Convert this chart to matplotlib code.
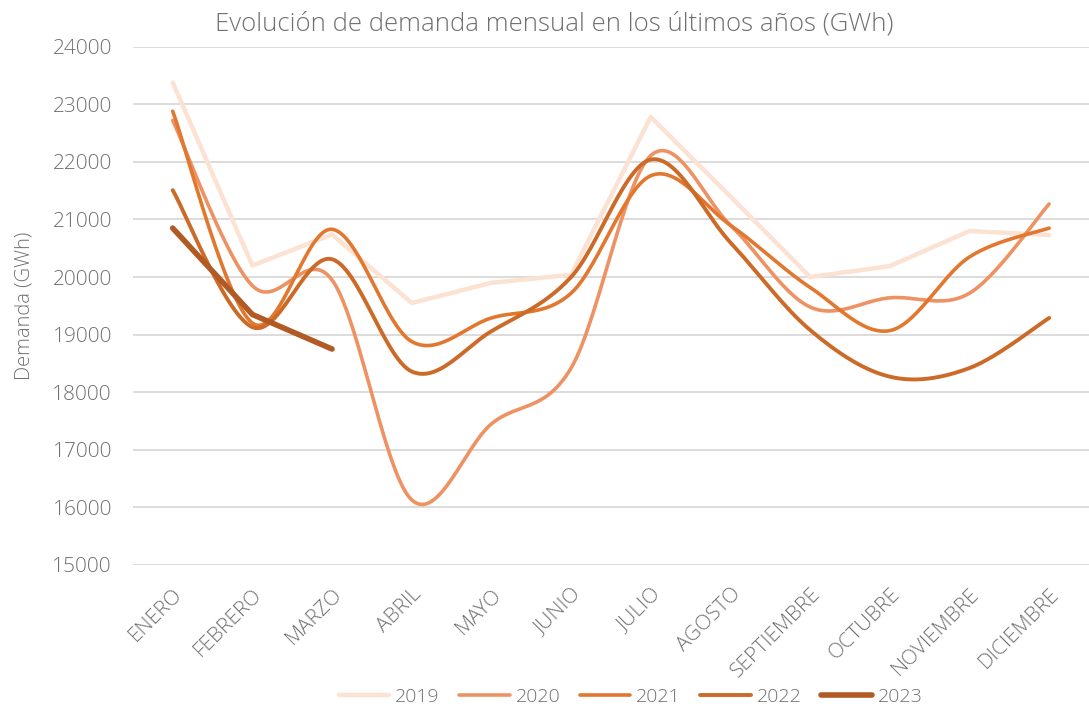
import numpy as np
import matplotlib
matplotlib.use("Agg")
import matplotlib.pyplot as plt

months = ["ENERO", "FEBRERO", "MARZO", "ABRIL", "MAYO", "JUNIO", "JULIO",
          "AGOSTO", "SEPTIEMBRE", "OCTUBRE", "NOVIEMBRE", "DICIEMBRE"]
d2019 = [23380, 20200, 20740, 19550, 19900, 20040, 22780, 21400, 20000, 20190, 20800, 20730]
d2020 = [22720, 19850, 19950, 16130, 17450, 18420, 22110, 20900, 19480, 19640, 19720, 21270]
d2021 = [22880, 19200, 20830, 18880, 19290, 19720, 21760, 20900, 19820, 19070, 20350, 20850]
d2022 = [21510, 19130, 20310, 18360, 19060, 20000, 22040, 20600, 19080, 18270, 18420, 19290]
d2023 = [20850, 19350, 18750]
years = ["2019", "2020", "2021", "2022", "2023"]
series = [d2019, d2020, d2021, d2022, d2023]
smooth = [False, True, True, True, False]
colors = ["#FBE2D2", "#EF9263", "#E2772F", "#CC6A27", "#B15A24"]
widths = [3.2, 2.6, 2.6, 2.8, 4.0]

plt.rcParams['font.family'] = ['Open Sans', 'DejaVu Sans']
txt = "#707070"
FW = 'light'

def smooth_curve(x, y, n=30):
    x = np.asarray(x, float); y = np.asarray(y, float)
    px = np.concatenate([[x[0]], x, [x[-1]]])
    py = np.concatenate([[y[0]], y, [y[-1]]])
    xs, ys = [], []
    t = np.linspace(0, 1, n)
    for i in range(1, len(x)):
        p0 = np.array([px[i], py[i]]); p1 = np.array([px[i + 1], py[i + 1]])
        pm = np.array([px[i - 1], py[i - 1]]); pp = np.array([px[i + 2], py[i + 2]])
        c1 = p0 + (p1 - pm) / 6.0
        c2 = p1 - (pp - p0) / 6.0
        b = ((1 - t) ** 3)[:, None] * p0 + (3 * (1 - t) ** 2 * t)[:, None] * c1 \
            + (3 * (1 - t) * t ** 2)[:, None] * c2 + (t ** 3)[:, None] * p1
        xs.extend(b[:, 0]); ys.extend(b[:, 1])
    return np.array(xs), np.array(ys)

fig = plt.figure(figsize=(10.89, 7.08), dpi=100)
ax = fig.add_axes([0.122, 0.202, 0.878, 0.732])

for name, vals, sm, c, w in zip(years, series, smooth, colors, widths):
    x = np.arange(len(vals))
    if sm:
        xs, ys = smooth_curve(x, vals)
    else:
        xs, ys = x, np.asarray(vals)
    ax.plot(xs, ys, color=c, lw=w, label=name, solid_capstyle='round', solid_joinstyle='round')

ax.set_xlim(-0.5, 11.5)
ax.set_ylim(15000, 24000)
ax.set_yticks(np.arange(15000, 24001, 1000))
ax.set_yticklabels([str(v) for v in range(15000, 24001, 1000)], fontweight=FW)
ax.set_xticks(np.arange(12))
ax.set_xticklabels(months, rotation=45, ha='right', va='top', rotation_mode='anchor', fontweight=FW)
ax.grid(axis='y', color='#D9D9D9', lw=1.3)
ax.set_axisbelow(True)
for s in ax.spines.values():
    s.set_visible(False)
ax.tick_params(axis='both', length=0, colors=txt, labelsize=15)
ax.tick_params(axis='y', pad=15)
ax.tick_params(axis='x', pad=14)
ax.set_ylabel("Demanda (GWh)", color=txt, fontsize=14.5, fontweight=FW)
ax.yaxis.set_label_coords(-0.103, 0.5)

fig.text(0.509, 0.966, "Evolución de demanda mensual en los últimos años (GWh)",
         ha='center', va='center', color=txt, fontsize=18.5, fontweight=FW)

leg = fig.legend(loc='center', bbox_to_anchor=(0.579, 0.0155), ncol=5, frameon=False,
                 prop={'size': 14, 'weight': FW}, handlelength=2.6, columnspacing=1.0,
                 handletextpad=0.3, labelcolor=txt)

fig.savefig("out.png", dpi=100)
